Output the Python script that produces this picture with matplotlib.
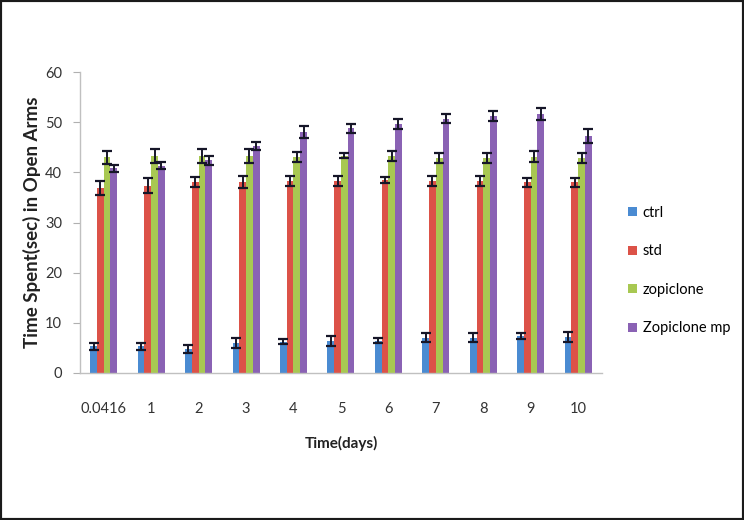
import matplotlib.pyplot as plt
from matplotlib.patches import Rectangle
import numpy as np

plt.rcParams['font.family'] = ['Lato', 'DejaVu Sans']

# Data
days = ['0.0416', '1', '2', '3', '4', '5', '6', '7', '8', '9', '10']
series = ['ctrl', 'std', 'zopiclone', 'Zopiclone mp']

ctrl = [5.3, 5.3, 4.8, 6.0, 6.2, 6.3, 6.4, 7.0, 7.0, 7.4, 7.2]
ctrl_err = [0.7, 0.7, 0.8, 1.0, 0.5, 1.0, 0.5, 0.9, 0.9, 0.6, 1.0]
std = [36.8, 37.3, 38.0, 38.0, 38.2, 38.2, 38.5, 38.2, 38.2, 38.0, 38.0]
std_err = [1.4, 1.5, 1.0, 1.2, 1.0, 1.0, 0.6, 1.0, 1.0, 0.9, 0.9]
zop = [43.0, 43.2, 43.3, 43.3, 43.1, 43.3, 43.2, 42.8, 42.9, 43.1, 42.9]
zop_err = [1.3, 1.4, 1.4, 1.4, 1.0, 0.5, 1.0, 1.0, 1.0, 1.1, 1.0]
zmp = [40.8, 41.3, 42.4, 45.2, 48.0, 48.8, 49.6, 50.7, 51.2, 51.7, 47.3]
zmp_err = [0.7, 0.7, 0.9, 0.8, 1.2, 0.9, 1.0, 0.9, 1.0, 1.2, 1.4]

values = [ctrl, std, zop, zmp]
errors = [ctrl_err, std_err, zop_err, zmp_err]
colors = ['#4a8bd2', '#dc5248', '#a8c852', '#8a62b4']

fig = plt.figure(figsize=(7.44, 5.2), dpi=100)
ax = fig.add_axes([0.1075, 0.2827, 0.7015, 0.5788])

x = np.arange(len(days))
w = 0.142
for i, (vals, errs, c, name) in enumerate(zip(values, errors, colors, series)):
    pos = x + (i - 1.5) * w
    ax.bar(pos, vals, width=w, color=c, label=name, zorder=2)
    ax.errorbar(pos, vals, yerr=errs, fmt='none', ecolor='#161628',
                elinewidth=1.4, capsize=3.8, capthick=1.6, zorder=3)

ax.set_xlim(-0.5, len(days) - 0.5)
ax.set_ylim(0, 60)
ax.set_yticks(range(0, 61, 10))
ax.set_xticks(x)
ax.set_xticklabels(days)
ax.tick_params(axis='y', direction='out', length=5, color='#b0b0b0',
               labelsize=10.5, labelcolor='#333333', pad=8)
ax.tick_params(axis='x', length=0, labelsize=10.5, labelcolor='#333333', pad=21)
for s in ['top', 'right']:
    ax.spines[s].set_visible(False)
for s in ['left', 'bottom']:
    ax.spines[s].set_color('#c0c0c0')
    ax.spines[s].set_linewidth(1)

ax.set_ylabel('Time Spent(sec) in Open Arms', fontsize=13.5, fontweight='bold',
              color='#222222', labelpad=3)
ax.set_xlabel('Time(days)', fontsize=11, fontweight='bold', color='#222222',
              labelpad=14)

ax.legend(loc='center left', bbox_to_anchor=(1.025, 0.34), frameon=False,
          fontsize=10.5, handlelength=0.6, handleheight=0.6, handletextpad=0.4,
          labelspacing=1.68)

# black outer frame
fig.patches.append(Rectangle((0, 0), 1, 1, transform=fig.transFigure,
                             fill=False, edgecolor='#1a1a1a', linewidth=3))

fig.savefig('out.png', dpi=100)
